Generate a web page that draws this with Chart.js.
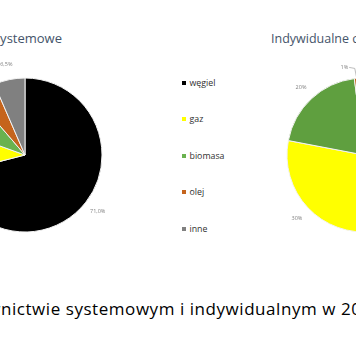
<!DOCTYPE html>
<html><head><meta charset="utf-8">
<script src="https://cdn.jsdelivr.net/npm/chart.js@4/dist/chart.umd.min.js"></script>
<style>
html,body{margin:0;padding:0;background:#fff;}
#wrap{position:relative;width:356px;height:364px;overflow:hidden;background:#fff;font-family:"Open Sans",sans-serif;}
canvas{position:absolute;}
.t{position:absolute;white-space:nowrap;line-height:1;}
.lg{position:absolute;left:182px;height:10px;font-size:8.8px;color:#303030;white-space:nowrap;line-height:10px;}
.lg i{display:inline-block;width:4px;height:4px;margin-right:3.5px;vertical-align:1px;}
</style></head><body>
<div id="wrap">
<canvas id="c1" width="200" height="200" style="left:-75px;top:55px;width:200px;height:200px"></canvas>
<canvas id="c2" width="200" height="200" style="left:264px;top:55px;width:200px;height:200px"></canvas>
<div class="t" style="right:294px;top:32px;font-size:13px;color:#44546a">Ciepłownictwo systemowe</div>
<div class="t" style="left:271px;top:32.5px;font-size:12.5px;color:#44546a">Indywidualne ciepłownictwo</div>
<div class="t" style="right:355px;top:300px;font-size:17px;letter-spacing:0.55px;color:#000">Struktura paliw w ciepłow</div>
<div class="t" style="left:1px;top:300px;font-size:17px;letter-spacing:0.55px;color:#000">nictwie systemowym i indywidualnym w 2017 r.</div>
<div id="legend"></div>
</div>
<script>
const categories = ['węgiel', 'gaz', 'biomasa', 'olej', 'inne'];
const systemoweValues = [71.0, 9.5, 8.2, 4.8, 6.5];
const indywidualneValues = [48, 30, 20, 1, 1];

const paletteLeft = ['#000000', '#ffff00', '#6ab24f', '#c5641c', '#808080'];
const paletteRight = ['#000000', '#ffff00', '#5f9f3f', '#c5641c', '#808080'];

// legend
const legendEl = document.getElementById('legend');
categories.forEach((c, i) => {
  const d = document.createElement('div');
  d.className = 'lg';
  d.style.top = (77.5 + i * 36.6) + 'px';
  d.innerHTML = '<i style="background:' + paletteLeft[i] + '"></i>' + c;
  legendEl.appendChild(d);
});

function makeLabels(format, distance, nudge, leader) {
  return {
    id: 'pieLabels',
    afterDatasetsDraw(chart) {
      const ctx = chart.ctx;
      const meta = chart.getDatasetMeta(0);
      const vals = chart.data.datasets[0].data;
      ctx.save();
      ctx.font = '5.5px "Open Sans"';
      ctx.fillStyle = '#7f7f7f';
      ctx.strokeStyle = '#a6a6a6';
      ctx.lineWidth = 0.75;
      ctx.textAlign = 'center';
      ctx.textBaseline = 'middle';
      meta.data.forEach((arc, i) => {
        const p = arc.getProps(['x', 'y', 'startAngle', 'endAngle', 'outerRadius'], true);
        const mid = (p.startAngle + p.endAngle) / 2;
        const r = p.outerRadius + distance;
        const n = nudge[i] || [0, 0];
        const lx = p.x + Math.cos(mid) * r + n[0];
        const ly = p.y + Math.sin(mid) * r + n[1];
        const text = format(vals[i]);
        ctx.fillText(text, lx, ly);
        if (leader.includes(i)) {
          const w = ctx.measureText(text).width;
          const ax = p.x + Math.cos(mid) * p.outerRadius;
          const ay = p.y + Math.sin(mid) * p.outerRadius;
          ctx.beginPath();
          ctx.moveTo(lx + w / 2 + 1, ly);
          ctx.lineTo(ax - 2, ly + 1);
          ctx.lineTo(ax, ay);
          ctx.stroke();
        }
      });
      ctx.restore();
    }
  };
}

function pieConfig(values, colors, labelPlugin) {
  return {
    type: 'pie',
    data: {
      labels: categories,
      datasets: [{
        data: values,
        backgroundColor: colors,
        borderColor: '#f2f2f2',
        borderWidth: 1,
        radius: 77
      }]
    },
    options: {
      responsive: false,
      animation: false,
      rotation: 0,
      layout: { padding: 0 },
      plugins: { legend: { display: false }, tooltip: { enabled: false }, title: { display: false } }
    },
    plugins: [labelPlugin]
  };
}

new Chart(document.getElementById('c1'), pieConfig(systemoweValues, paletteLeft,
  makeLabels(v => v.toFixed(1).replace('.', ',') + '%', 15, {}, [])));
new Chart(document.getElementById('c2'), pieConfig(indywidualneValues, paletteRight,
  makeLabels(v => Math.round(v) + '%', 15, { 3: [-11, 4] }, [3])));
</script>
</body></html>
